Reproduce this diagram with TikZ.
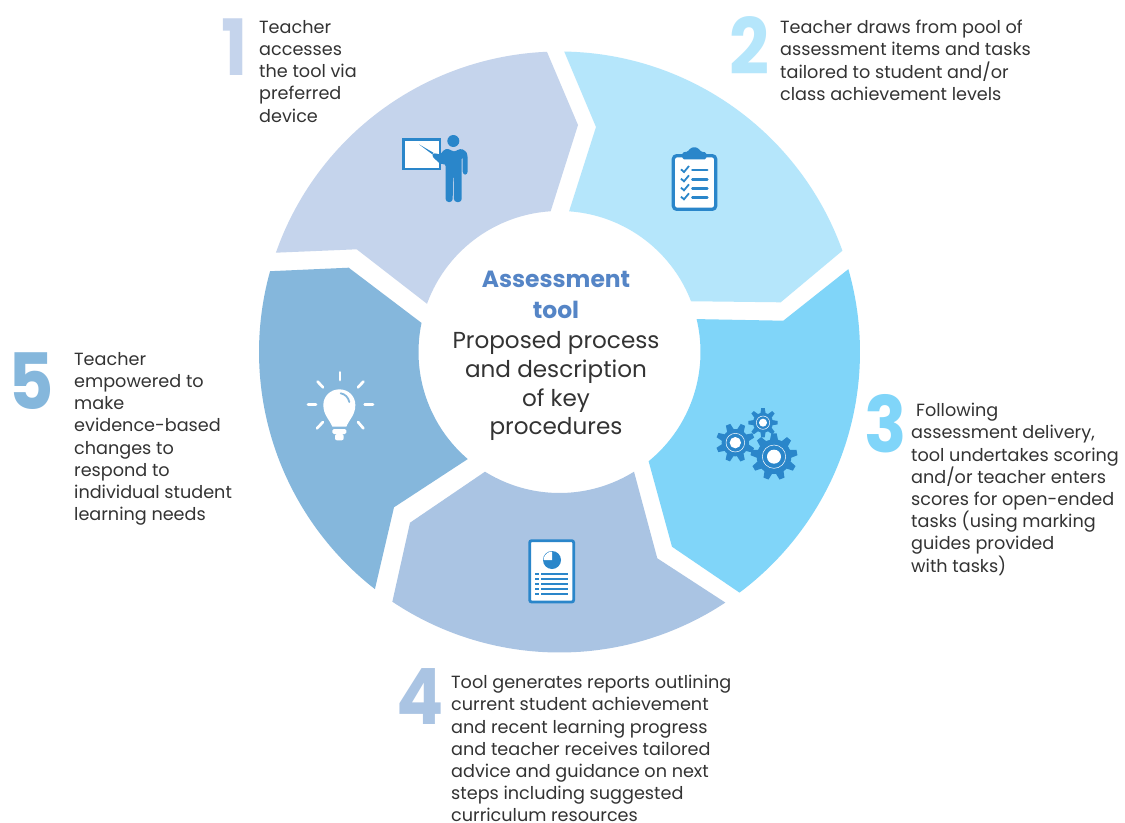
\documentclass[tikz,border=0pt]{standalone}
\usepackage{fontspec}
\setmainfont{Poppins}
\definecolor{segA}{HTML}{C5D4EC}
\definecolor{segB}{HTML}{B5E6FB}
\definecolor{segC}{HTML}{80D5F9}
\definecolor{segD}{HTML}{AAC4E3}
\definecolor{segE}{HTML}{85B7DC}
\definecolor{icon}{HTML}{2A86CA}
\definecolor{title}{HTML}{5585C6}
\definecolor{body}{HTML}{333333}
\newcommand{\mygear}[6]{% cx cy Rbody Rtip teeth rot
  \fill[icon] (#1,#2) circle (#3);
  \foreach \k in {1,...,#5}{
    \pgfmathsetmacro{\ang}{#6+360*\k/#5}
    \pgfmathsetmacro{\hw}{0.55*3.14159*#3/#5}
    \fill[icon,shift={(#1,#2)},rotate=\ang] (#3-4,-1.25*\hw) -- (#4,-0.8*\hw) -- (#4,0.8*\hw) -- (#3-4,1.25*\hw) -- cycle;
  }
}
\tikzset{
  txt/.style={anchor=north west,inner sep=0pt,align=left,text=body,font=\fontsize{17.7}{22.3}\selectfont},
  bignum/.style={anchor=center,inner sep=0pt,xscale=0.9,font=\fontsize{78}{78}\selectfont\bfseries},
  ray/.style={white,line width=2.7bp,line cap=round},
  rule/.style={icon,line width=1.7bp},
  oa/.style={samples=60},
  ia/.style={samples=40},
}
\begin{document}
\begin{tikzpicture}[x=1bp,y=-1bp]
\useasboundingbox (0,0) rectangle (1125,823);
\fill[white] (0,0) rectangle (1125,823);
% segments
\fill[segA] plot[oa,domain=199.3:267.6] ({559.5+300.5*cos(\x)},{352+300.5*sin(\x)}) -- (578,125) -- plot[ia,domain=266.4:200] ({559.5+141*cos(\x)},{352+141*sin(\x)}) -- (356.7,249.3) -- cycle;
\fill[segB] plot[oa,domain=270.9:340.3] ({559.5+300.5*cos(\x)},{352+300.5*sin(\x)}) -- (780.7,302.3) -- plot[ia,domain=338.9:273.9] ({559.5+141*cos(\x)},{352+141*sin(\x)}) -- (596,127) -- cycle;
\fill[segC] plot[oa,domain=344:413.2] ({559.5+300.5*cos(\x)},{352+300.5*sin(\x)}) -- (672,546.7) -- plot[ia,domain=410.8:346.5] ({559.5+141*cos(\x)},{352+141*sin(\x)}) -- (783.3,320.7) -- cycle;
\fill[segD] plot[oa,domain=56.5:123.8] ({559.5+300.5*cos(\x)},{352+300.5*sin(\x)}) -- (410,522.7) -- plot[ia,domain=121.9:58.1] ({559.5+141*cos(\x)},{352+141*sin(\x)}) -- (657.3,558.3) -- cycle;
\fill[segE] plot[oa,domain=127.9:195.6] ({559.5+300.5*cos(\x)},{352+300.5*sin(\x)}) -- (348.7,267.7) -- plot[ia,domain=191.9:130.6] ({559.5+141*cos(\x)},{352+141*sin(\x)}) -- (394,507.3) -- cycle;
% icon 1
\begin{scope}[shift={(380,120)},scale=0.33333]
  \draw[icon,fill=white,line width=2.6bp] (70,59) rectangle (180,147);
  \fill[icon] (117,73) -- (160,98) -- (157,103) -- cycle;
  \fill[icon] (220,63) circle (18);
  \fill[icon,rounded corners=3bp] (154,107) -- (163,97) -- (180,106) -- (190,90) -- (205,85) -- (222,97) -- (240,85) -- (257,92) -- (263,105) -- (263,164) -- (248,164) -- (248,108) -- (245,108) -- (245,246) -- (222,246) -- (221,165) -- (219,165) -- (218,246) -- (197,246) -- (197,130) -- (183,134) -- cycle;
\end{scope}
% icon 2
\begin{scope}[shift={(650,130)},scale=0.33333]
  \draw[icon,fill=white,line width=3.3bp,rounded corners=3.5bp] (70,77) rectangle (197,238);
  \fill[icon,rounded corners=1.5bp] (97,88) -- (97,67) -- (114,65) -- (120,55) -- (133,51) -- (146,55) -- (152,65) -- (169,67) -- (169,88) -- cycle;
  \foreach \yy in {118,146,173,200}{
    \draw[icon,line width=1.8bp] (93,\yy) -- (102,\yy+8) -- (117,\yy-10);
    \draw[icon,line width=2.4bp,line cap=round] (127,\yy+2) -- (172,\yy+2);
  }
\end{scope}
% icon 3
\begin{scope}[shift={(700,395)},scale=0.33333]
  \mygear{106}{143}{41}{58}{8}{22}
  \mygear{222}{185}{52}{70}{9}{10}
  \mygear{189}{83}{30}{44}{8}{0}
  \foreach \cx/\cy/\rr/\hh in {106/143/28/17, 222/185/35/21, 189/83/20/12}{
    \draw[white,line width=0.5bp] (\cx,\cy) circle (\rr);
    \fill[white] (\cx,\cy) circle (\hh);
  }
\end{scope}
% icon 4
\begin{scope}[shift={(510,525)},scale=0.33333]
  \draw[icon,fill=white,line width=2.8bp,rounded corners=2bp] (59,47) rectangle (191,231);
  \fill[icon] (126,105) circle (27);
  \fill[white] (126,105) -- (101,105) -- plot[domain=180:270,samples=12] ({126+25*cos(\x)},{105+25*sin(\x)}) -- cycle;
  \foreach \yy in {147,162,177,192,206}{
    \draw[rule] (76,\yy) -- (88,\yy);
    \draw[rule] (94,\yy) -- (175,\yy);
  }
\end{scope}
% icon 5
\begin{scope}[shift={(295,360)},scale=0.33333]
  \draw[ray] (135,37) -- (135,60);
  \draw[ray] (68,65) -- (84,82);
  \draw[ray] (205,65) -- (189,82);
  \draw[ray] (39,133) -- (63,133);
  \draw[ray] (209,133) -- (234,133);
  \draw[ray] (66,205) -- (84,186);
  \draw[ray] (205,205) -- (189,186);
  \fill[white] (112,200) .. controls (103,178) and (85,165) .. (85,135) .. controls (85,108) and (107,88) .. (133,88) .. controls (160,88) and (181,108) .. (181,135) .. controls (181,165) and (163,178) .. (154,200) -- cycle;
  \fill[white,rounded corners=1.5bp] (112,207) rectangle (154,222);
  \fill[white,rounded corners=2bp] (120,222) rectangle (146,241);
  \draw[segE,line width=1.8bp,line cap=round] (137,100) .. controls (150,102) and (160,112) .. (163,126);
\end{scope}
% numbers
\node[bignum,text=segA] (n1) at (234.5,47) {1};
\node[bignum,text=segB] (n2) at (749,46) {2};
\node[bignum,text=segC] (n3) at (885.5,424) {3};
\node[bignum,text=segD] (n4) at (420.5,697) {4};
\node[bignum,text=segE] (n5) at (31.5,381) {5};
% descriptions
\node[txt] (t1) at (259,20) {Teacher\\accesses\\the tool via\\preferred\\device};
\node[txt] (t2) at (780,20) {Teacher draws from pool of\\assessment items and tasks\\tailored to student and/or\\class achievement levels};
\node[txt] (t3) at (911,403) {\hspace{5bp}Following\\assessment delivery,\\tool undertakes scoring\\and/or teacher enters\\scores for open-ended\\tasks (using marking\\guides provided\\with tasks)};
\node[txt] (t4) at (451,675) {Tool generates reports outlining\\current student achievement\\and recent learning progress\\and teacher receives tailored\\advice and guidance on next\\steps including suggested\\curriculum resources};
\node[txt] (t5) at (74,352) {Teacher\\empowered to\\make\\evidence-based\\changes to\\respond to\\individual student\\learning needs};
% centre
\node[anchor=center,inner sep=0pt,align=center,text=title,font=\fontsize{23.5}{31}\selectfont\bfseries] (ct) at (556,295) {Assessment\\tool};
\node[anchor=north,inner sep=0pt,align=center,text=body,font=\fontsize{23.2}{29}\selectfont] (cb) at (556,331) {Proposed process\\and description\\of key\\procedures};
\end{tikzpicture}
\end{document}
